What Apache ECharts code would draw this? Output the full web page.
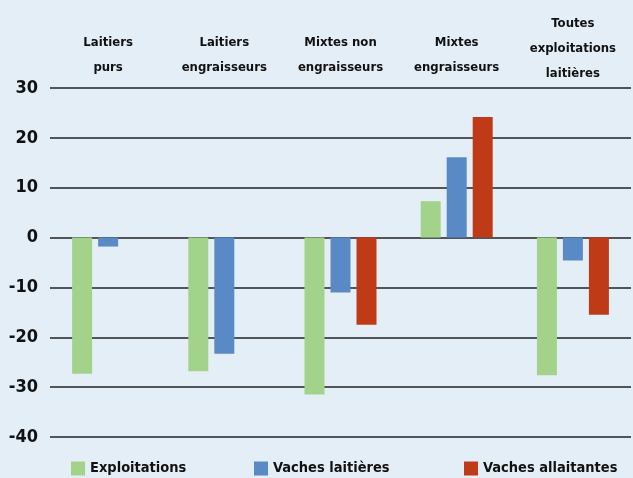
<!DOCTYPE html>
<html>
<head>
<meta charset="utf-8">
<script src="https://cdn.jsdelivr.net/npm/echarts@6/dist/echarts.min.js"></script>
<style>
  html, body { margin: 0; padding: 0; background: #e4eef6; }
  #chart { width: 633px; height: 478px; }
</style>
</head>
<body>
<div id="chart"></div>
<script>
// catégories d'exploitations
var categories = ['Laitiers\npurs', 'Laitiers\nengraisseurs', 'Mixtes non\nengraisseurs', 'Mixtes\nengraisseurs', 'Toutes\nexploitations\nlaitières'];
// évolution en %
var exploitations = [-27.3, -26.8, -31.5, 7.3, -27.6];
var vachesLaitieres = [-1.8, -23.3, -11.0, 16.1, -4.6];
var vachesAllaitantes = [null, null, -17.5, 24.2, -15.5];

var font = '"DejaVu Sans Condensed", sans-serif';

var chart = echarts.init(document.getElementById('chart'));

var legendBase = {
    bottom: -3,
    icon: 'rect',
    itemWidth: 14,
    itemHeight: 14,
    itemGap: 5,
    textStyle: { fontFamily: font, fontSize: 14.5, color: '#111', fontWeight: 'bold' }
};

var option = {
    backgroundColor: '#e4eef6',
    textStyle: { fontFamily: font },
    grid: { left: 50, right: 2, top: 88, bottom: 41 },
    // une légende par série pour caler les positions
    legend: [
        Object.assign({}, legendBase, { left: 66, data: ['Exploitations'] }),
        Object.assign({}, legendBase, { left: 249, data: ['Vaches laitières'] }),
        Object.assign({}, legendBase, { left: 459, data: ['Vaches allaitantes'] })
    ],
    xAxis: {
        type: 'category',
        position: 'top',
        data: categories,
        axisLine: { show: false },
        axisTick: { show: false },
        axisLabel: {
            interval: 0,
            margin: 2,
            color: '#111',
            // les libellés sur 2 lignes sont un peu plus hauts
            formatter: function (value) {
                var lines = value.split('\n');
                var txt = lines.map(function (l) { return '{n|' + l + '}'; }).join('\n');
                if (lines.length < 3) txt += '\n{s|}';
                return txt;
            },
            rich: {
                n: { fontFamily: font, fontSize: 13, fontWeight: 'bold', lineHeight: 25, color: '#111' },
                s: { fontSize: 1, lineHeight: 6 }
            }
        }
    },
    yAxis: {
        type: 'value',
        min: -40,
        max: 30,
        interval: 10,
        axisLine: { show: false },
        axisTick: { show: false },
        axisLabel: { margin: 12, fontFamily: font, fontSize: 18, color: '#111', fontWeight: 'bold' },
        splitLine: { lineStyle: { color: '#222', width: 1.5 } }
    },
    series: [
        {
            name: 'Exploitations',
            type: 'bar',
            data: exploitations,
            barWidth: 20,
            barGap: '30%',
            itemStyle: { color: '#a3d28b' }
        },
        {
            name: 'Vaches laitières',
            type: 'bar',
            data: vachesLaitieres,
            barWidth: 20,
            barGap: '30%',
            itemStyle: { color: '#5a8ac6' }
        },
        {
            name: 'Vaches allaitantes',
            type: 'bar',
            data: vachesAllaitantes,
            barWidth: 20,
            barGap: '30%',
            itemStyle: { color: '#bf3b18' }
        }
    ]
};

chart.setOption(option);
</script>
</body>
</html>
